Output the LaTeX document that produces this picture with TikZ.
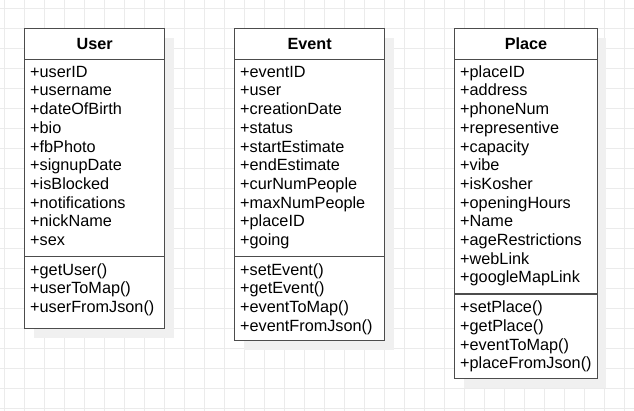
\documentclass[tikz,border=0pt]{standalone}
\usepackage{fontspec}
\setmainfont{Liberation Sans}
\usepackage{tikz}
\usetikzlibrary{positioning,shadows}
\tikzset{
	grid line/.style={draw=black!8, line width=0.9pt},
	class box/.style={draw=black!70, line width=1.3pt, fill=white, anchor=north west,
		inner sep=0pt, minimum width=#1,
		general shadow={fill=black!6, shadow xshift=9pt, shadow yshift=-9pt}},
	class name/.style={anchor=north, minimum height=31pt, inner sep=0pt,
		font=\fontsize{16.2}{18.7}\selectfont\bfseries},
	class rule/.style={draw=black!70, line width=1.2pt},
	member/.style={anchor=base west, inner sep=0pt, xshift=6pt,
		font=\fontsize{16.25}{18.7}\selectfont}
}

\begin{document}
\begin{tikzpicture}[x=1pt,y=-1pt]
  \useasboundingbox (0,0) rectangle (634,411);
  % background grid
  \foreach \k in {0,...,31} \draw[grid line] ({4.3+20*\k},0) -- ({4.3+20*\k},411);
  \foreach \k in {0,...,20} \draw[grid line] (0,{8.7+20*\k}) -- (634,{8.7+20*\k});
  % User
  \node[class box=140pt, minimum height=300pt] (user) at (24,28) {};
  \node[class name] (user name) at (user.north) {User};
  \draw[class rule] (user.west |- user name.south) -- (user.east |- user name.south);
  \foreach \m [count=\i] in {userID,username,dateOfBirth,bio,fbPhoto,signupDate,isBlocked,notifications,nickName,sex}
    \node[member] (user attr\i) at (user.west |- 0,{77.3+(\i-1)*18.7}) {+\m};
  \draw[class rule] (user.west |- 0,256.5) -- (user.east |- 0,256.5);
  \foreach \m [count=\i] in {getUser(),userToMap(),userFromJson()}
    \node[member] (user op\i) at (user.west |- 0,{275.2+(\i-1)*18.7}) {+\m};
  % Event
  \node[class box=150pt, minimum height=312pt] (event) at (234,28) {};
  \node[class name] (event name) at (event.north) {Event};
  \draw[class rule] (event.west |- event name.south) -- (event.east |- event name.south);
  \foreach \m [count=\i] in {eventID,user,creationDate,status,startEstimate,endEstimate,curNumPeople,maxNumPeople,placeID,going}
    \node[member] (event attr\i) at (event.west |- 0,{77.3+(\i-1)*18.7}) {+\m};
  \draw[class rule] (event.west |- 0,256.5) -- (event.east |- 0,256.5);
  \foreach \m [count=\i] in {setEvent(),getEvent(),eventToMap(),eventFromJson()}
    \node[member] (event op\i) at (event.west |- 0,{275.2+(\i-1)*18.7}) {+\m};
  % Place
  \node[class box=142.7pt, minimum height=350pt] (place) at (454,28) {};
  \node[class name] (place name) at (place.north) {Place};
  \draw[class rule] (place.west |- place name.south) -- (place.east |- place name.south);
  \foreach \m [count=\i] in {placeID,address,phoneNum,representive,capacity,vibe,isKosher,openingHours,Name,ageRestrictions,webLink,googleMapLink}
    \node[member] (place attr\i) at (place.west |- 0,{77.3+(\i-1)*18.7}) {+\m};
  \draw[class rule] (place.west |- 0,294) -- (place.east |- 0,294);
  \foreach \m [count=\i] in {setPlace(),getPlace(),eventToMap(),placeFromJson()}
    \node[member] (place op\i) at (place.west |- 0,{312.7+(\i-1)*18.7}) {+\m};
\end{tikzpicture}
\end{document}
